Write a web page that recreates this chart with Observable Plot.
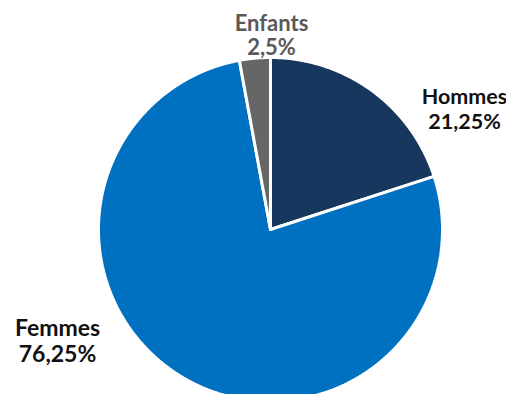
<!DOCTYPE html>
<html><head><meta charset="utf-8">
<script src="https://cdn.jsdelivr.net/npm/d3@7"></script>
<script src="https://cdn.jsdelivr.net/npm/@observablehq/plot@0.6"></script>
<style>body{margin:0;background:#fff}</style>
</head><body><div id="chart"></div>
<script>
const categories = ["Hommes", "Femmes", "Enfants"];
// slice sizes as drawn in the picture (angles measured)
const values = [20, 77.1, 2.9];
// label texts as printed in the picture
const valueLabels = ["21,25%", "76,25%", "2,5%"];
const colors = ["#17375e", "#0070c0", "#666666"];
const labelColors = ["#111111", "#111111", "#595959"];

const R = 172;
const total = d3.sum(values);
const polys = [];
let acc = 0;
categories.forEach((c, i) => {
  const a0 = acc / total * 2 * Math.PI;
  acc += values[i];
  const a1 = acc / total * 2 * Math.PI;
  polys.push({cat: c, x: 0, y: 0});
  const n = Math.max(2, Math.ceil((a1 - a0) / 0.005));
  for (let k = 0; k <= n; k++) {
    const a = a0 + (a1 - a0) * k / n;
    polys.push({cat: c, x: R * Math.sin(a), y: -R * Math.cos(a)});
  }
  polys.push({cat: c, x: 0, y: 0});
});

// label layout: [x, top y, font size, line spacing px]
const labelLayout = {Hommes: [194, -143, 21.5, 25], Femmes: [-213, 88, 23, 26], Enfants: [1, -216, 22, 24.5]};
const labelMarks = categories.map((c, i) => {
  const [x, y, fs, lh] = labelLayout[c];
  return Plot.text([{text: c + "\n" + valueLabels[i], x, y}], {
    x: "x", y: "y", text: "text", fill: labelColors[i], fontSize: fs,
    fontWeight: "bold", lineAnchor: "top", lineHeight: lh / fs, textAnchor: "middle"
  });
});

const chart = Plot.plot({
  width: 506, height: 394,
  margin: 0,
  x: {domain: [-270, 236], range: [0, 506], axis: null},
  y: {domain: [-229, 165], range: [0, 394], axis: null},
  color: {domain: categories, range: colors},
  style: {fontFamily: "Lato, sans-serif", background: "#fff"},
  marks: [
    Plot.line(polys, {x: "x", y: "y", z: "cat", fill: "cat", stroke: "white", strokeWidth: 3, strokeLinejoin: "miter", curve: "linear"}),
    ...labelMarks
  ]
});
document.getElementById("chart").append(chart);
</script></body></html>
